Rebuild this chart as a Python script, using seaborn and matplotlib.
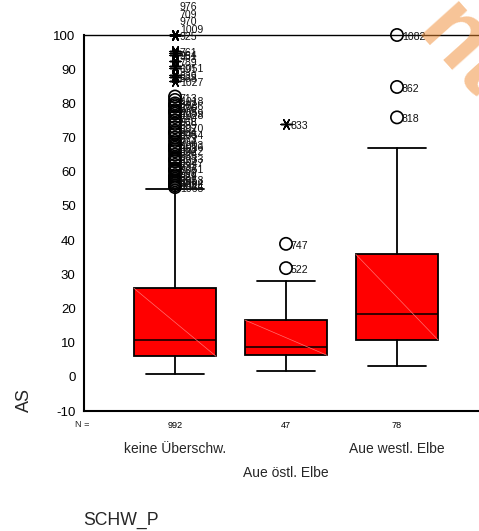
import matplotlib
matplotlib.use("Agg")
import matplotlib.pyplot as plt
import seaborn as sns
import pandas as pd

# Groups of SCHW_P and their case counts
categories = ["keine Überschw.", "Aue östl. Elbe", "Aue westl. Elbe"]
counts = [992, 47, 78]

# Box statistics of AS per group
whisker_low = [0.7, 1.8, 3.1]
q1 = [6.0, 6.3, 10.8]
median = [10.8, 8.8, 18.5]
q3 = [25.9, 16.6, 35.8]
whisker_high = [54.9, 28.0, 66.9]

# Outliers (circles) and extreme values (asterisks), with case numbers
outliers_1 = [55.5, 56, 56.5, 57, 57.5, 58, 58.5, 59, 60, 60.5, 61, 62, 63, 63.5, 64, 65,
              66, 66.5, 67, 67.5, 68, 69, 70, 71, 71.5, 72, 73, 74, 75, 76, 77, 77.5,
              78, 79, 79.5, 80, 81, 82]
outlier_ids_1 = ["1065", "1044", "903", "1004", "657", "1058", "881", "929", "699", "767",
                 "1061", "731", "1047", "822", "1033", "665", "936", "1022", "853", "1016",
                 "1003", "704", "973", "1054", "808", "994", "1070", "685", "968", "740",
                 "1028", "1059", "905", "776", "1086", "842", "1018", "713"]
extremes_1 = [100, 100, 100, 100, 100, 95.2, 94.6, 94.2, 92.4, 90.8, 90.4, 88.4, 87.8, 86.5]
extreme_ids_1 = ["925", "1009", "970", "709", "976", "761", "964", "951", "789", "1051",
                 "691", "839", "888", "1027"]

outliers_2 = [31.8, 38.9]
outlier_ids_2 = ["522", "747"]
extremes_2 = [74.0]
extreme_ids_2 = ["833"]

outliers_3 = [75.9, 84.8, 100.0]
outlier_ids_3 = ["818", "862", "1082"]
extremes_3 = []
extreme_ids_3 = []

y_ticks = list(range(-10, 101, 10))

sns.set_theme(style="white")
plt.rcParams["font.family"] = ["Liberation Sans", "DejaVu Sans"]

W, H = 479, 531
fig = plt.figure(figsize=(W / 100, H / 100), dpi=100)
ax = fig.add_axes([84 / W, (H - 411) / H, (488 - 84) / W, (411 - 35) / H])

stats = []
for i in range(3):
    stats.append(dict(whislo=whisker_low[i], q1=q1[i], med=median[i], q3=q3[i],
                      whishi=whisker_high[i], fliers=[], label=categories[i]))

box_w = 0.74
ax.bxp(stats, positions=range(3), widths=box_w, capwidths=0.52, patch_artist=True,
       showfliers=False,
       boxprops=dict(facecolor="#ff0000", edgecolor="black", linewidth=1.3),
       medianprops=dict(color="black", linewidth=1.1),
       whiskerprops=dict(color="black", linewidth=1.3),
       capprops=dict(color="black", linewidth=1.3))

# faint diagonal across each box
for i in range(3):
    ax.plot([i - box_w / 2, i + box_w / 2], [q3[i], q1[i]], color="#ff7070",
            linewidth=0.5, zorder=3)

rows = []
groups = [(outliers_1, outlier_ids_1, extremes_1, extreme_ids_1),
          (outliers_2, outlier_ids_2, extremes_2, extreme_ids_2),
          (outliers_3, outlier_ids_3, extremes_3, extreme_ids_3)]
for i, (ov, oid, ev, eid) in enumerate(groups):
    for v, c in zip(ov, oid):
        rows.append(dict(pos=i, AS=v, case=c, kind="outlier"))
    for v, c in zip(ev, eid):
        rows.append(dict(pos=i, AS=v, case=c, kind="extreme"))
df = pd.DataFrame(rows)

out = df[df.kind == "outlier"]
ext = df[df.kind == "extreme"]
sns.scatterplot(data=out, x="pos", y="AS", ax=ax, marker="o", s=78,
                facecolors="none", edgecolor="black", linewidth=1.2,
                zorder=5, clip_on=False, legend=False)
sns.scatterplot(data=ext, x="pos", y="AS", ax=ax, marker=(6, 2, 90), s=60,
                color="black", edgecolor="black", linewidth=1.1,
                zorder=5, clip_on=False, legend=False)

# case labels; repeated values are stacked upward
seen = {}
for _, r in df.iterrows():
    key = (r.pos, r.AS)
    k = seen.get(key, 0)
    seen[key] = k + 1
    ax.annotate(r.case, xy=(r.pos, r.AS), xytext=(3.5, -1.5 + 5.4 * k),
                textcoords="offset points", fontsize=7.6, ha="left", va="center",
                color="#111111", annotation_clip=False, zorder=6)

ax.set_xlim(-0.82, 2.82)
ax.set_ylim(-10, 100)
ax.set_yticks(y_ticks)
ax.set_yticklabels([str(t) for t in y_ticks], fontsize=9.5)
ax.set_xticks(range(3))
ax.set_xticklabels([str(n) for n in counts], fontsize=6.6)
ax.tick_params(axis="both", which="both", direction="out", length=4, width=1,
               color="black", labelcolor="black", pad=3)
ax.tick_params(axis="y", pad=2)
ax.set_xlabel("")
ax.set_ylabel("")

for side in ["left", "bottom"]:
    ax.spines[side].set_linewidth(1.5)
    ax.spines[side].set_color("black")
ax.spines["top"].set_linewidth(1.0)
ax.spines["top"].set_color("black")
ax.spines["right"].set_visible(False)

ax.annotate("N =", xy=(0, 0), xycoords="axes fraction", xytext=(-1.5, -9.4),
            textcoords="offset points", ha="center", va="center", fontsize=6.6)

# category names, alternating rows
offsets = [-27.4, -44.6, -27.4]
for i, name in enumerate(categories):
    ax.annotate(name, xy=(i, 0), xycoords=("data", "axes fraction"),
                xytext=(0, offsets[i]), textcoords="offset points",
                ha="center", va="center", fontsize=10, annotation_clip=False)

fig.text(83 / W, 1 - 520 / H, "SCHW_P", ha="left", va="center", fontsize=12.7)
fig.text(24.5 / W, 1 - 400 / H, "AS", ha="center", va="center", rotation=90, fontsize=13)

# stamp running off the upper right corner
fig.text(462 / W, 1 - 52 / H, "nt", rotation=-48, ha="center", va="center",
         fontsize=70, fontweight="bold", color="#f08a30", alpha=0.5, zorder=10)

fig.savefig("out.png", dpi=100)
